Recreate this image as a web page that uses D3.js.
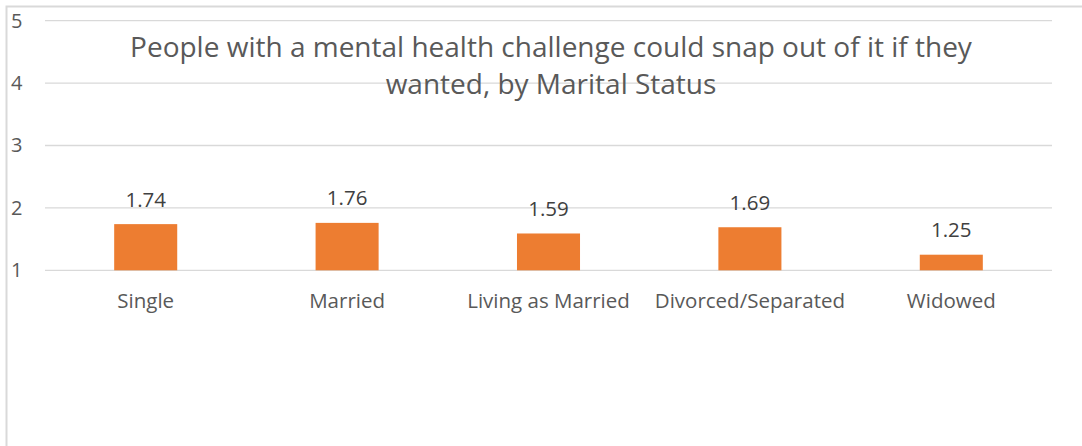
<!DOCTYPE html>
<html>
<head>
<meta charset="utf-8">
<script src="https://cdn.jsdelivr.net/npm/d3@7"></script>
<style>
  body{margin:0;background:#fff;}
  svg{display:block;font-family:"Open Sans",sans-serif;}
</style>
</head>
<body>
<svg width="1082" height="446"></svg>
<script>
var categories=["Single","Married","Living as Married","Divorced/Separated","Widowed"];
var values=[1.74,1.76,1.59,1.69,1.25];
var yTicks=[1,2,3,4,5];
var titleLines=["People with a mental health challenge could snap out of it if they","wanted, by Marital Status"];

var svg=d3.select("svg");
var margin={top:20.7,left:45,right:30,bottom:175.7};
var plotWidth=1082-margin.left-margin.right;
var plotHeight=446-margin.top-margin.bottom;

// chart area frame (only top + left edges visible in the crop)
svg.append("path")
  .attr("d","M6.5,446 L6.5,6.5 L1082,6.5")
  .attr("fill","none")
  .attr("stroke","#d9d9d9")
  .attr("stroke-width",2);

var plot=svg.append("g").attr("transform","translate("+margin.left+","+margin.top+")");

var xScale=d3.scaleBand()
  .domain(categories)
  .range([0,plotWidth])
  .paddingInner(0.687)
  .paddingOuter(0.687/2);

var yScale=d3.scaleLinear()
  .domain([1,5])
  .range([plotHeight,0]);

// gridlines
plot.selectAll("line.grid")
  .data(yTicks)
  .enter().append("line")
  .attr("class","grid")
  .attr("x1",0).attr("x2",plotWidth)
  .attr("y1",function(d){return yScale(d);})
  .attr("y2",function(d){return yScale(d);})
  .attr("stroke","#d9d9d9")
  .attr("stroke-width",1.3);

// y labels
plot.selectAll("text.ytick")
  .data(yTicks)
  .enter().append("text")
  .attr("class","ytick")
  .attr("x",-34)
  .attr("y",function(d){return yScale(d);})
  .attr("dy","0.35em")
  .attr("font-size",20)
  .attr("fill","#595959")
  .text(function(d){return d;});

// bars
plot.selectAll("rect.bar")
  .data(values)
  .enter().append("rect")
  .attr("class","bar")
  .attr("x",function(d,i){return xScale(categories[i]);})
  .attr("width",xScale.bandwidth())
  .attr("y",function(d){return yScale(d);})
  .attr("height",function(d){return yScale(1)-yScale(d);})
  .attr("fill","#ED7D31");

// value labels
plot.selectAll("text.details")
  .data(values)
  .enter().append("text")
  .attr("class","details")
  .attr("x",function(d,i){return xScale(categories[i])+xScale.bandwidth()/2;})
  .attr("y",function(d){return yScale(d)-17.5;})
  .attr("text-anchor","middle")
  .attr("font-size",20.5)
  .attr("fill","#404040")
  .text(function(d){return d.toFixed(2);});

// category labels
plot.selectAll("text.cat")
  .data(categories)
  .enter().append("text")
  .attr("class","cat")
  .attr("x",function(d){return xScale(d)+xScale.bandwidth()/2;})
  .attr("y",plotHeight+37.5)
  .attr("text-anchor","middle")
  .attr("font-size",20.5)
  .attr("fill","#595959")
  .text(function(d){return d;});

// title
svg.selectAll("text.title")
  .data(titleLines)
  .enter().append("text")
  .attr("class","title")
  .attr("x",551)
  .attr("y",function(d,i){return 57+i*36.5;})
  .attr("text-anchor","middle")
  .attr("font-size",28)
  .attr("fill","#595959")
  .text(function(d){return d;});
</script>
</body>
</html>
